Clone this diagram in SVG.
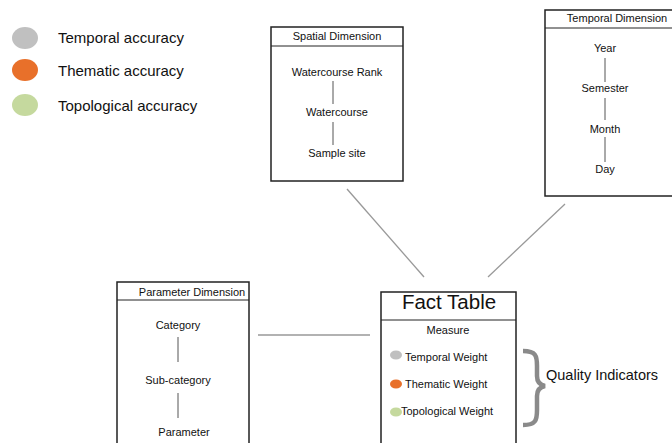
<svg xmlns="http://www.w3.org/2000/svg" width="672" height="443" viewBox="0 0 672 443">
<style>
text{font-family:"Liberation Sans",Arial,sans-serif;fill:#111}
.box{fill:#fff;stroke:#222;stroke-width:1.5}
.hl{stroke:#222;stroke-width:1}
.t11{font-size:11px;text-anchor:middle}
.leg{font-size:15px}
.tree{stroke:#555;stroke-width:1}
.conn{stroke:#999;stroke-width:1.3;fill:none}
</style>
<rect width="672" height="443" fill="#fff"/>
<g id="legend">
<ellipse cx="25" cy="38" rx="13" ry="11" fill="#c0c0c0"/>
<ellipse cx="25" cy="70" rx="13" ry="11" fill="#e8702a"/>
<ellipse cx="25" cy="105" rx="13" ry="11" fill="#c5d99e"/>
<text class="leg" x="58" y="43">Temporal accuracy</text>
<text class="leg" x="58" y="76">Thematic accuracy</text>
<text class="leg" x="58" y="111">Topological accuracy</text>
</g>
<g id="connectors">
<line class="conn" x1="347" y1="189" x2="424" y2="277"/>
<line class="conn" x1="565" y1="204" x2="488" y2="277"/>
<line class="conn" x1="258" y1="335" x2="370" y2="335"/>
</g>
<g id="spatial">
<rect class="box" x="271" y="27" width="132" height="154"/>
<line class="hl" x1="271" y1="46" x2="403" y2="46"/>
<text class="t11" x="337" y="40">Spatial Dimension</text>
<text class="t11" x="337" y="76">Watercourse Rank</text>
<line class="tree" x1="333" y1="81" x2="333" y2="104"/>
<text class="t11" x="337" y="116">Watercourse</text>
<line class="tree" x1="333" y1="122" x2="333" y2="145"/>
<text class="t11" x="337" y="157">Sample site</text>
</g>
<g id="temporal">
<rect class="box" x="545" y="10" width="140" height="186"/>
<line class="hl" x1="545" y1="28" x2="685" y2="28"/>
<text class="t11" x="617" y="22">Temporal  Dimension</text>
<text class="t11" x="605" y="52">Year</text>
<line class="tree" x1="605" y1="58" x2="605" y2="82"/>
<text class="t11" x="605" y="92">Semester</text>
<line class="tree" x1="605" y1="98" x2="605" y2="120"/>
<text class="t11" x="605" y="133">Month</text>
<line class="tree" x1="605" y1="137" x2="605" y2="162"/>
<text class="t11" x="605" y="173">Day</text>
</g>
<g id="parameter">
<rect class="box" x="117" y="282" width="132" height="170"/>
<line class="hl" x1="117" y1="300" x2="249" y2="300"/>
<text class="t11" x="192" y="296">Parameter Dimension</text>
<text class="t11" x="178" y="329">Category</text>
<line class="tree" x1="178" y1="337" x2="178" y2="362"/>
<text class="t11" x="178" y="384">Sub-category</text>
<line class="tree" x1="178" y1="393" x2="178" y2="418"/>
<text class="t11" x="184" y="436">Parameter</text>
</g>
<g id="fact">
<rect class="box" x="381" y="292" width="135" height="160"/>
<line class="hl" x1="381" y1="320" x2="516" y2="320"/>
<text x="449" y="309" style="font-size:20.5px;text-anchor:middle">Fact Table</text>
<text class="t11" x="448" y="334">Measure</text>
<ellipse cx="396" cy="355" rx="6" ry="4.5" fill="#c0c0c0"/>
<ellipse cx="396" cy="384" rx="6" ry="4.5" fill="#e8702a"/>
<ellipse cx="396" cy="412" rx="6" ry="4.5" fill="#c5d99e"/>
<text x="405" y="361" style="font-size:11px">Temporal Weight</text>
<text x="405" y="388" style="font-size:11px">Thematic Weight</text>
<text x="401" y="415" style="font-size:11px">Topological Weight</text>
</g>
<g id="quality">
<path d="M523,351 C536,351 537,356 537,366 L537,376 C537,382 540,385 545,386 C540,387 537,390 537,396 L537,410 C537,420 536,425 523,425" fill="none" stroke="#8a8a8a" stroke-width="4.5"/>
<text x="546" y="380" style="font-size:14.5px">Quality Indicators</text>
</g>
</svg>
